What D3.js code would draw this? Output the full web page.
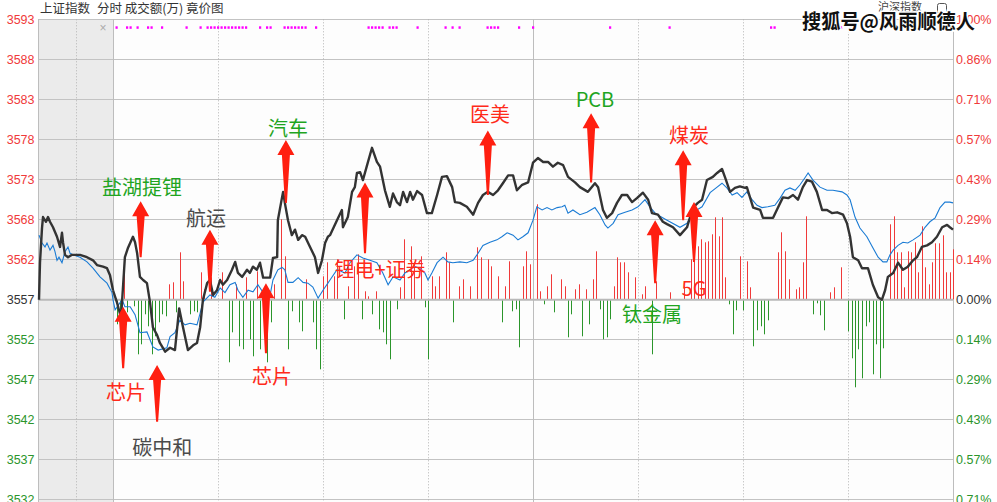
<!DOCTYPE html>
<html><head><meta charset="utf-8">
<script src="https://cdn.jsdelivr.net/npm/d3@7"></script>
<style>
html,body{margin:0;padding:0;background:#fff;}
svg{display:block;}
text{font-family:"Liberation Sans",Arial,sans-serif;}
.cjk{font-family:"Noto Sans CJK SC","Noto Sans",sans-serif;}
</style></head><body>
<svg id="chart" width="997" height="502"></svg>
<script>
// ---------------- data ----------------
const basePrice = 3557.35;
const tickPercents = [1.0, 6/7, 5/7, 4/7, 3/7, 2/7, 1/7, 0, -1/7, -2/7, -3/7, -4/7, -5/7];
const leftTickLabels = ["3593","3588","3583","3578","3573","3568","3562","3557","3552","3547","3542","3537","3532"];
const rightTickLabels = ["1.00%","0.86%","0.71%","0.57%","0.43%","0.29%","0.14%","0.00%","0.14%","0.29%","0.43%","0.57%","0.71%"];

// auction period (minutes after 9:15) : [minute, price]
const auctionIndex = [[0.2,3557.3],[0.4,3562.0],[0.8,3566.4],[1,3567.8],[1.6,3567.2],[2.0,3567.8],[2.4,3567.2],[3,3566.5],[3.8,3565.3],[4.4,3564.0],[4.8,3565.8],[5,3564.6],[5.4,3563.0],[6,3562.7],[6.8,3563.0],[8.4,3563.0],[9.8,3562.7],[11,3562.3],[11.8,3561.7],[13,3561.5],[13.8,3561.3],[14.4,3560.4],[15,3558.5]];
const auctionAvg = [[0.2,3565.5],[0.8,3564.5],[1.4,3564.0],[1.8,3564.5],[2.4,3563.6],[3,3564.2],[3.4,3563.4],[3.8,3562.3],[4.2,3562.7],[4.8,3562.0],[5.4,3563.4],[6,3564.0],[6.4,3563.2],[7,3563.0],[8.4,3562.7],[9.8,3562.1],[11,3561.3],[12.4,3560.2],[13.8,3559.4],[14.8,3558.2],[15,3557.3]];

// trading session (minutes after 9:30, 240 = 15:00) : [minute, price]
const indexLine = [[0,3558.5],[1.1,3557.0],[2.3,3555.0],[3.4,3562.7],[4.3,3563.9],[5.7,3565.3],[6.3,3564.6],[6.9,3563.2],[7.7,3560.2],[8.6,3559.8],[9.7,3559.4],[10.6,3556.9],[11.4,3553.8],[12.6,3552.8],[13.4,3551.8],[14.9,3550.7],[16.3,3551.2],[17.7,3550.9],[18.9,3556.2],[20,3553.8],[21.4,3550.9],[22.9,3551.5],[24,3551.8],[24.9,3553.8],[25.7,3557.3],[26.9,3559.4],[27.7,3559.8],[28.6,3557.9],[29.7,3558.5],[30.6,3559.8],[31.4,3559.2],[32.6,3559.8],[34,3561.1],[34.9,3562.1],[35.7,3560.7],[36.9,3560.2],[38.3,3561.1],[39.1,3560.7],[40,3561.5],[41.1,3561.1],[42,3562.0],[42.9,3560.1],[44.9,3560.1],[45.7,3562.6],[46.9,3562.7],[47.1,3567.4],[48.3,3570.3],[48.6,3571.0],[49.1,3569.6],[50,3567.4],[51.1,3565.5],[52,3566.2],[52.9,3564.9],[54,3565.5],[54.9,3565.3],[56.3,3564.0],[57.7,3562.7],[58.6,3560.7],[59.7,3562.3],[60.6,3564.5],[61.4,3565.3],[62,3565.5],[64,3567.4],[65.4,3568.7],[65.7,3566.5],[67.1,3567.8],[68.3,3571.0],[69.1,3571.6],[69.7,3573.4],[70.6,3573.5],[71.4,3572.5],[72.6,3574.4],[74,3576.6],[75.4,3574.8],[76.3,3574.2],[77.7,3571.2],[79.1,3569.1],[80,3570.8],[81.1,3569.7],[82,3569.3],[82.9,3571.0],[84,3569.7],[84.9,3571.0],[85.7,3570.0],[86.9,3571.1],[88.3,3570.6],[89.7,3568.3],[91.1,3568.3],[92.6,3570.6],[94,3572.9],[95.4,3573.0],[96.9,3571.6],[97.7,3569.7],[99.1,3569.6],[101.1,3569.1],[102.9,3568.1],[104.3,3569.6],[105.7,3570.6],[107.1,3571.0],[108.6,3570.6],[110,3571.2],[111.4,3572.1],[112.9,3573.1],[114.3,3573.1],[115.4,3571.2],[116.9,3571.9],[118.6,3572.2],[120,3574.7],[121.4,3575.3],[122.9,3574.8],[124.3,3574.8],[125.7,3574.2],[127.1,3574.7],[128.6,3574.4],[130,3572.9],[132,3572.2],[133.4,3571.6],[135.7,3571.0],[137.7,3572.1],[138.6,3571.6],[140,3568.7],[141.1,3567.7],[142.6,3568.3],[144,3569.6],[145.4,3570.6],[146.9,3570.6],[148.3,3569.7],[149.7,3570.2],[151.4,3570.9],[152.9,3570.0],[154,3568.3],[155.7,3568.1],[157.1,3567.2],[158.3,3566.9],[160,3566.5],[162,3565.5],[164,3566.5],[165.7,3569.0],[167.1,3569.6],[168.3,3570.0],[169.7,3572.5],[171.4,3572.9],[172.6,3573.4],[174,3573.9],[174.9,3572.8],[176.3,3571.0],[177.7,3571.5],[179.1,3571.7],[180.6,3571.5],[181.1,3571.6],[182.9,3569.0],[184.9,3568.7],[185.7,3567.7],[188.6,3567.7],[190,3569.0],[191.4,3570.3],[192.9,3570.2],[194.3,3570.6],[195.7,3570.0],[197.1,3571.6],[198.3,3572.5],[199.7,3572.3],[201.1,3571.0],[202.6,3568.7],[204,3568.7],[205.4,3568.3],[206.9,3568.4],[208.6,3568.1],[209.7,3567.0],[210.6,3565.3],[211.4,3562.7],[212.9,3562.3],[214,3561.3],[215.7,3561.3],[217.1,3559.2],[218.6,3557.6],[219.7,3557.3],[220.6,3558.5],[221.4,3560.2],[222.9,3560.7],[224.3,3562.0],[225.7,3561.1],[227.1,3561.5],[228.6,3562.3],[229.7,3562.7],[231.1,3564.0],[232.6,3564.2],[234,3564.6],[235.4,3565.3],[236.9,3566.5],[238.3,3566.8],[239.1,3566.5],[240,3566.2]];

const avgLine = [[0,3557.3],[0.6,3556.0],[2.6,3557.3],[3.4,3556.4],[4.9,3556.4],[6.3,3555.4],[7.7,3553.1],[9.7,3553.2],[11.4,3551.3],[12.9,3550.9],[15.4,3551.2],[16.3,3552.6],[17.7,3553.1],[19.1,3554.7],[20.6,3554.1],[22,3554.3],[24,3554.1],[24.9,3555.6],[25.7,3557.0],[27.7,3557.9],[29.1,3557.6],[30.6,3558.8],[32,3558.2],[33.4,3559.2],[34.9,3559.5],[35.7,3558.5],[37.1,3557.6],[38.6,3558.5],[40,3558.3],[41.4,3559.2],[42.9,3558.2],[44,3557.6],[44.9,3557.9],[45.7,3559.8],[47.1,3561.1],[48.3,3561.4],[49.1,3561.1],[50,3559.5],[51.4,3559.5],[52.9,3560.1],[54.3,3559.5],[55.7,3559.4],[57.1,3558.9],[58.6,3557.5],[60,3558.5],[61.4,3559.4],[62,3559.8],[64,3561.1],[66.3,3560.7],[67.7,3562.0],[69.7,3563.0],[71.4,3562.6],[73.4,3562.3],[75.4,3562.0],[77.1,3560.7],[78.6,3559.2],[80,3560.2],[82,3559.8],[83.4,3560.7],[84.9,3561.1],[86.3,3561.5],[87.7,3561.3],[89.1,3560.7],[90,3559.8],[91.1,3560.7],[92.6,3562.0],[94.3,3562.7],[95.7,3562.1],[97.1,3562.0],[99.1,3562.1],[101.1,3562.0],[102.9,3562.3],[104.3,3563.2],[105.7,3564.2],[107.7,3564.6],[109.7,3564.9],[111.1,3565.3],[112.6,3565.8],[114.3,3565.5],[115.7,3564.9],[117.1,3565.3],[118.6,3565.8],[120,3567.4],[121.1,3569.1],[122.6,3568.7],[124,3569.0],[125.4,3568.7],[126.9,3569.0],[128.3,3569.1],[129.1,3569.3],[130,3568.3],[131.4,3568.7],[133.4,3568.1],[135.4,3568.4],[137.7,3569.0],[139.1,3568.1],[140.6,3566.8],[141.4,3566.4],[142.9,3567.0],[144.3,3568.1],[146.3,3568.4],[148.3,3568.7],[150,3569.1],[152,3570.0],[153.4,3569.1],[154.9,3568.3],[156.3,3567.9],[158.3,3567.4],[162,3566.5],[164,3567.0],[165.7,3568.4],[168.3,3569.1],[170.6,3570.9],[172.6,3571.6],[174,3572.1],[175.4,3571.5],[176.9,3570.6],[178.3,3570.9],[179.7,3570.3],[181.1,3571.0],[182.6,3570.0],[184,3569.3],[185.4,3569.0],[187.1,3569.1],[189.1,3569.3],[190.6,3570.2],[192,3571.2],[193.4,3571.5],[194.9,3571.2],[196.3,3571.9],[197.7,3572.8],[198.6,3573.4],[200,3572.5],[202,3571.6],[204,3571.2],[205.7,3571.2],[208.3,3571.0],[209.7,3570.6],[210.6,3570.0],[212,3567.8],[213.4,3566.4],[215.4,3565.3],[217.1,3563.9],[218.6,3562.7],[220,3562.1],[221.1,3562.1],[222,3563.0],[222.9,3563.6],[224.3,3564.2],[225.7,3564.6],[227.1,3564.5],[228.6,3564.9],[230.6,3565.5],[232,3566.5],[233.4,3567.2],[234.9,3567.7],[236.3,3569.0],[237.7,3569.7],[239.1,3569.7],[240,3569.6]];

// per-minute flow bars (positive = red, negative = green)
const flowBars = [[1,-25],[2,-20],[3,43],[4,-13],[6,-7],[7,-55],[8,-45],[9,-15],[10,-27],[11,-55],[12,-37],[13,-23],[14,-15],[15,-17],[16,15],[17,17],[18,-13],[19,47],[20,18],[22,-15],[23,-12],[24,-13],[25,27],[26,10],[28,22],[31,27],[33,-63],[34,-33],[35,15],[36,-47],[37,-50],[38,22],[39,-40],[40,-57],[41,28],[42,-50],[44,-63],[45,-23],[46,15],[48,80],[49,43],[50,-50],[51,-12],[53,-23],[54,-32],[55,20],[57,-23],[58,-50],[59,-70],[60,23],[61,37],
[63,23],[64,40],[66,-20],[67,13],[69,33],[70,45],[71,-20],[72,8],[73,3],[74,-15],[75,8],[76,-30],[77,-33],[78,-45],[79,-60],[81,-10],[82,12],[83,60],[85,53],[86,37],[88,43],[89,-8],[90,-60],[91,23],[92,13],[93,23],[95,47],[96,37],[97,-23],[99,13],[100,20],[102,13],[104,52],[105,42],[107,40],[108,33],[110,23],[111,-23],[112,13],[113,38],[114,-12],[115,-10],[116,-48],[117,33],[118,48],[119,35],[121,95],[122,8],[123,-5],[124,13],[125,25],[126,-13],[128,20],[129,13],[130,-38],[131,-15],[132,10],[133,15],[134,-37],[135,10],[136,-25],[137,20],[138,48],[139,-10],[140,-40],[141,-38],[142,-20],[143,13],[144,42],[145,37],[146,37],[147,27],[149,22],[151,5],[152,13],[154,-55],[155,18],[159,7],
[163,13],[165,40],[166,63],[167,53],[168,60],[169,57],[170,58],[171,65],[172,82],[173,63],[174,82],[175,22],[176,-5],[177,-35],[178,-11],[179,43],[180,-11],[181,38],[182,12],[183,-47],[184,-31],[185,-27],[186,-35],[187,-21],[190,47],[191,67],[192,48],[193,20],[195,10],[196,12],[197,37],[198,83],[200,-15],[201,-4],[202,-16],[203,-31],[205,7],[206,12],[208,32],[210,-32],[211,-59],[212,-88],[213,-50],[214,-79],[215,-27],[216,-23],[217,-75],[218,-45],[219,-79],[220,-49],[222,75],[223,83],[224,47],[225,47],[226,12],[227,48],[228,47],[229,57],[230,27],[231,73],[232,32],[233,15],[234,37],[235,56],[236,56],[237,64],[238,27],[239,27],[240,50]];

// minutes with a marker dot on the top row
const markerMinutes = [1,4,5,7,10,11,14,21,25,27,28,29,30,31,32,33,34,35,36,37,38,42,44,45,49,50,51,52,53,54,55,58,73,74,75,76,77,79,80,81,87,95,97,99,107,108,109,110,116,120,142,159,188,189,208];

// annotations
const noteLabels  = ["盐湖提锂","航运","汽车","芯片","碳中和","芯片","锂电+证券","医美","PCB","钛金属","煤炭","5G"];
const noteTones   = ["g","k","g","r","k","r","r","r","g","g","r","r"];
const noteMinutes = [7.9,27.7,49.4,2.9,12.6,43.7,72,107.1,136.6,154.9,162.9,166];
const noteTips    = [3569.8,3566.2,3577.6,3556.4,3549.0,3559.4,3572.2,3578.8,3581.0,3567.4,3576.3,3569.7];
const noteTails   = [3562.7,3558.3,3569.6,3548.6,3541.8,3550.5,3563.2,3570.6,3572.2,3559.4,3567.4,3562.1];
const labelMinutes= [8.3,26.6,50,3.7,14.1,45.4,76.3,107.7,137.7,154,164.6,166];
const labelPrices = [3571.7,3567.7,3579.2,3545.6,3538.7,3547.7,3561.3,3580.9,3582.9,3555.6,3578.3,3558.8];

// ---------------- drawing ----------------
const svg = d3.select("#chart");
const x  = d3.scaleLinear().domain([0,240]).range([113,953]);
const xa = d3.scaleLinear().domain([0,15]).range([38,113]);
const y  = d3.scaleLinear().domain([basePrice*(1-0.05/7), basePrice*1.01]).range([499.3,19.3]);
const y0 = y(basePrice);
const barScale = d3.scaleLinear().domain([-100,100]).range([y0+100, y0-100]);

const RED="#f03a3a", GREEN="#2b952b", DARK="#333";
const toneColor = {g:"#1fa51f", r:"#ff2a1a", k:"#4a4a4a"};

// background
svg.append("rect").attr("x",38).attr("y",y(basePrice*1.01)).attr("width",x(240)-38).attr("height",502).attr("fill","#fdfdfd");
svg.append("rect").attr("x",38).attr("y",y(basePrice*1.01)).attr("width",xa(15)-38).attr("height",502).attr("fill","#ebebeb");

// horizontal grid
const tickPrices = tickPercents.map(p=>basePrice*(1+p/100));
svg.append("g").selectAll("line").data(tickPrices).join("line")
  .attr("x1",38).attr("x2",x(240))
  .attr("y1",d=>Math.round(y(d))+0.5).attr("y2",d=>Math.round(y(d))+0.5)
  .attr("stroke","#c3c3c3").attr("stroke-width",1);

// vertical grid
const dotted = [xa(7.6), x(30), x(60), x(90), x(150), x(180), x(210)];
svg.append("g").selectAll("line").data(dotted).join("line")
  .attr("x1",d=>Math.round(d)+0.5).attr("x2",d=>Math.round(d)+0.5)
  .attr("y1",y(basePrice*1.01)).attr("y2",502)
  .attr("stroke","#b4b4b4").attr("stroke-dasharray","1,2");
const solid = [38, xa(15), x(120), x(240)];
svg.append("g").selectAll("line").data(solid).join("line")
  .attr("x1",d=>Math.round(d)+0.5).attr("x2",d=>Math.round(d)+0.5)
  .attr("y1",y(basePrice*1.01)).attr("y2",502)
  .attr("stroke","#bdbdbd").attr("stroke-width",1);

// bars
svg.append("g").selectAll("line").data(flowBars).join("line")
  .attr("x1",d=>Math.round(x(d[0]))+0.5).attr("x2",d=>Math.round(x(d[0]))+0.5)
  .attr("y1",y0).attr("y2",d=>barScale(d[1]))
  .attr("stroke",d=>d[1]>0?RED:GREEN).attr("stroke-width",1);

// baseline
svg.append("line").attr("x1",38).attr("x2",x(240)).attr("y1",y0+0.5).attr("y2",y0+0.5)
  .attr("stroke","#b9b9b9").attr("stroke-width",2);

// marker dots
svg.append("g").selectAll("rect").data(markerMinutes).join("rect")
  .attr("x",d=>x(d)-1).attr("y",y(basePrice*1.01)+7).attr("width",2.2).attr("height",2.5)
  .attr("fill","#ff00ff");

// lines
const lineMain = d3.line().x(d=>x(d[0])).y(d=>y(d[1]));
const lineAuc  = d3.line().x(d=>xa(d[0])).y(d=>y(d[1]));
svg.append("path").attr("d",lineAuc(auctionAvg)).attr("fill","none").attr("stroke","#1a7bd4").attr("stroke-width",1.1);
svg.append("path").attr("d",lineMain(avgLine)).attr("fill","none").attr("stroke","#1a7bd4").attr("stroke-width",1.1);
svg.append("path").attr("d",lineAuc(auctionIndex)).attr("fill","none").attr("stroke",DARK).attr("stroke-width",2.4).attr("stroke-linejoin","round");
svg.append("path").attr("d",lineMain(indexLine)).attr("fill","none").attr("stroke",DARK).attr("stroke-width",2.4).attr("stroke-linejoin","round");

// axis labels
const tickColor = i => i<7 ? RED : (i===7 ? DARK : GREEN);
svg.append("g").selectAll("text").data(leftTickLabels).join("text")
  .attr("x",34.5).attr("y",(d,i)=>y(tickPrices[i])+4.5).attr("text-anchor","end")
  .attr("font-size",12.5).attr("fill",(d,i)=>tickColor(i)).text(d=>d);
svg.append("g").selectAll("text").data(rightTickLabels).join("text")
  .attr("x",956).attr("y",(d,i)=>y(tickPrices[i])+4.5).attr("text-anchor","start")
  .attr("font-size",12.5).attr("fill",(d,i)=>tickColor(i)).text(d=>d);

// title
svg.append("text").attr("class","cjk").attr("x",40).attr("y",13).attr("font-size",12.5).attr("fill","#333").text("上证指数");
svg.append("text").attr("class","cjk").attr("x",97).attr("y",13).attr("font-size",12.5).attr("fill","#333").text("分时 成交额(万) 竟价图");
svg.append("text").attr("x",103).attr("y",32).attr("text-anchor","middle").attr("font-size",12).attr("fill","#aaa").text("×");

// arrows
const arrowPath = (cx, ty, by) => {
  const hh = 15, hw = 8.5, sw = 4, tw = 1;
  return `M${cx},${ty} L${cx+hw},${ty+hh} L${cx+sw},${ty+hh} L${cx+tw},${by} L${cx-tw},${by} L${cx-sw},${ty+hh} L${cx-hw},${ty+hh} Z`;
};
svg.append("g").selectAll("path").data(noteLabels).join("path")
  .attr("d",(d,i)=>arrowPath(x(noteMinutes[i]), y(noteTips[i]), y(noteTails[i])))
  .attr("fill","#ff1f10");

// labels
svg.append("g").selectAll("text").data(noteLabels).join("text")
  .attr("class","cjk")
  .attr("x",(d,i)=>x(labelMinutes[i])).attr("y",(d,i)=>y(labelPrices[i]))
  .attr("text-anchor","middle").attr("dominant-baseline","central")
  .attr("font-size",20).attr("fill",(d,i)=>toneColor[noteTones[i]]).text(d=>d);

// top-right widget and watermark
svg.append("text").attr("class","cjk").attr("x",878).attr("y",11).attr("font-size",11).attr("fill","#444").text("沪深指数");
svg.append("rect").attr("x",937.5).attr("y",3.5).attr("width",9).attr("height",10).attr("rx",2).attr("fill","none").attr("stroke","#555");
svg.append("text").attr("class","cjk").attr("x",802).attr("y",29).attr("font-size",20).attr("font-weight","bold")
  .attr("fill","#111").attr("stroke","#fff").attr("stroke-width",3).attr("paint-order","stroke")
  .attr("textLength",173).attr("lengthAdjust","spacingAndGlyphs")
  .text("搜狐号@风雨顺德人");
</script></body></html>
